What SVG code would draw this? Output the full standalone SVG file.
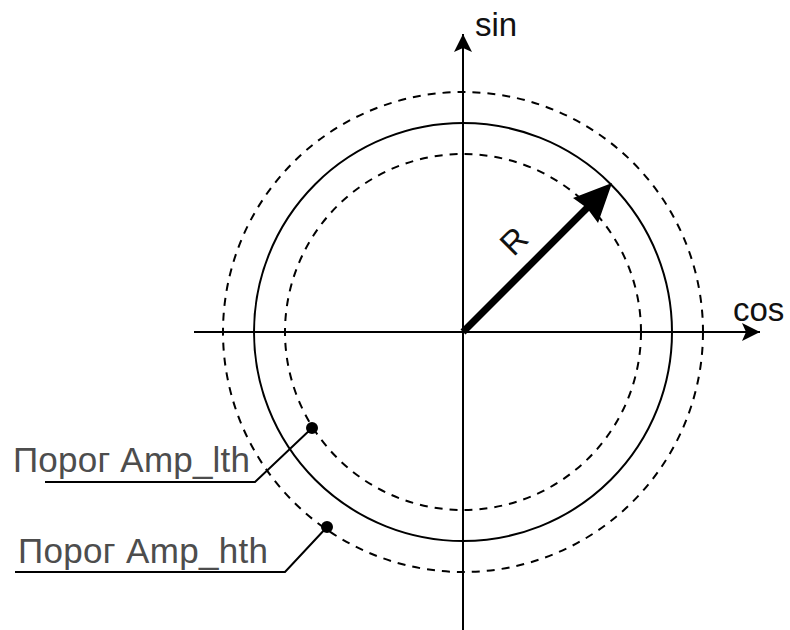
<svg xmlns="http://www.w3.org/2000/svg" width="790" height="630" viewBox="0 0 790 630">
<style>
.ax{stroke:#000;stroke-width:2;fill:none}
.c{stroke:#000;stroke-width:2;fill:none}
.d{stroke:#000;stroke-width:2;fill:none;stroke-dasharray:8 7}
.lead{stroke:#000;stroke-width:2;fill:none}
.t{font-family:"Liberation Sans",Arial,sans-serif;font-size:33px;fill:#111}
.lbl{font-family:"Liberation Sans",Arial,sans-serif;font-size:35px;fill:#4d4d4d}
</style>
<defs>
<marker id="ah" markerWidth="20" markerHeight="20" viewBox="0 0 20 20" refX="18" refY="10" orient="auto" markerUnits="userSpaceOnUse">
<path d="M18,10 L0,1 L4,10 L0,19 Z" fill="#000"/>
</marker>
</defs>
<g id="circles">
<circle id="outer" class="d" cx="463" cy="332" r="240"/>
<circle id="main" class="c" cx="463" cy="332" r="209"/>
<circle id="inner" class="d" cx="463" cy="332" r="178"/>
</g>
<g id="connectors">
<line class="ax" x1="194" y1="332" x2="760" y2="332" marker-end="url(#ah)"/>
<line class="ax" x1="463" y1="630" x2="463" y2="34" marker-end="url(#ah)"/>
<line x1="463" y1="332" x2="590" y2="205" stroke="#000" stroke-width="7"/>
<path d="M612,183 L573,198 L587,208 L598,223 Z" fill="#000"/>
<polyline class="lead" points="45,482 255,482 312,428"/>
<polyline class="lead" points="15,572 285,572 327,527"/>
<circle cx="312" cy="428" r="6" fill="#000"/>
<circle cx="327" cy="527" r="6" fill="#000"/>
</g>
<g id="labels">
<text class="t" x="475" y="36">sin</text>
<text class="t" x="733" y="321">cos</text>
<text class="t" transform="translate(522,249) rotate(-45)" text-anchor="middle" font-size="33">R</text>
<text class="lbl" x="13" y="472" textLength="237">Порог Amp_lth</text>
<text class="lbl" x="18" y="563" textLength="250">Порог Amp_hth</text>
</g>
</svg>
